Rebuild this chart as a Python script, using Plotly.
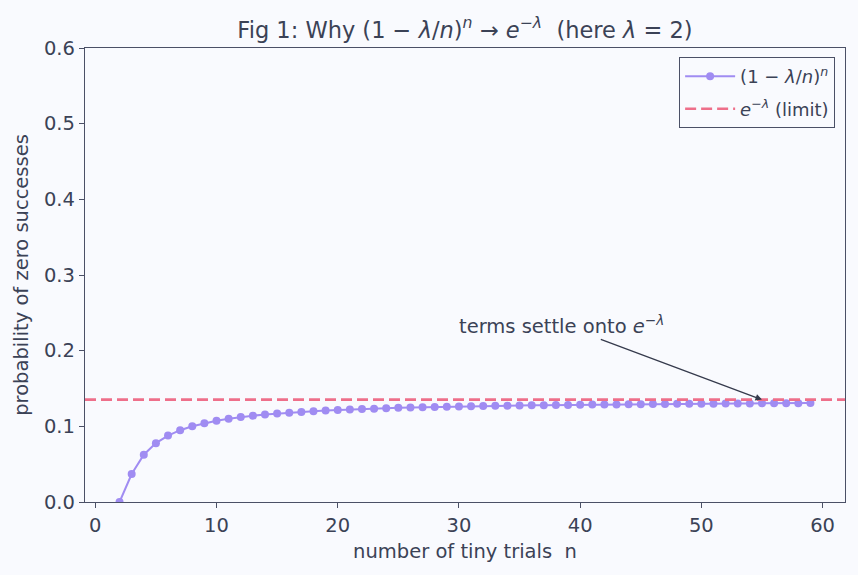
import plotly.graph_objects as go

n_values = list(range(2, 60))
prob_zero = [0.0, 0.0370, 0.0625, 0.0778, 0.0878, 0.0949, 0.1001, 0.1042, 0.1074, 0.1100,
             0.1122, 0.1140, 0.1156, 0.1169, 0.1181, 0.1191, 0.1200, 0.1208, 0.1216, 0.1223,
             0.1229, 0.1234, 0.1239, 0.1244, 0.1248, 0.1252, 0.1256, 0.1259, 0.1262, 0.1265,
             0.1268, 0.1271, 0.1273, 0.1275, 0.1278, 0.1280, 0.1282, 0.1283, 0.1285, 0.1287,
             0.1289, 0.1290, 0.1291, 0.1293, 0.1294, 0.1295, 0.1297, 0.1298, 0.1299, 0.1300,
             0.1301, 0.1302, 0.1303, 0.1304, 0.1305, 0.1306, 0.1306, 0.1307]
limit_value = 0.1353
x_range = [-0.85, 61.85]
y_ticks = [0.0, 0.1, 0.2, 0.3, 0.4, 0.5, 0.6]
x_ticks = [0, 10, 20, 30, 40, 50, 60]

TXT = "#3b4256"
AX = "#4b5066"
BG = "#f9fafe"
FONT = "DejaVu Sans"

fig = go.Figure()
fig.add_trace(go.Scatter(
    x=n_values, y=prob_zero, mode="lines+markers",
    line=dict(color="#a08cf2", width=2),
    marker=dict(color="#a08cf2", size=8),
    name="(1 − <i>λ</i>/<i>n</i>)<sup><i>n</i></sup>",
    legendgroup="a",
))
fig.add_trace(go.Scatter(
    x=x_range, y=[limit_value, limit_value], mode="lines",
    line=dict(color="#ee6f8a", width=2.6, dash="11px,5px"),
    name="<i>e</i><sup>−<i>λ</i></sup> (limit)",
    legendgroup="b",
))

fig.add_annotation(
    x=55, y=limit_value, xref="x", yref="y",
    ax=38.5, ay=0.234, axref="x", ayref="y",
    text="terms settle onto <i>e</i><sup>−<i>λ</i></sup>",
    showarrow=True, arrowhead=2, arrowsize=1, arrowwidth=1.3, arrowcolor="#353a4c",
    font=dict(family=FONT, size=19.5, color=TXT),
)

fig.update_layout(
    width=858, height=575,
    margin=dict(l=85, r=13, t=48, b=73),
    paper_bgcolor=BG, plot_bgcolor=BG,
    font=dict(family=FONT, size=18, color=TXT),
    title=dict(text="Fig 1: Why (1 − <i>λ</i>/<i>n</i>)<sup><i>n</i></sup> → <i>e</i><sup>−<i>λ</i></sup>\u00a0\u00a0(here <i>λ</i> = 2)",
               x=0.5, xref="paper", xanchor="center", y=0.948, yanchor="middle",
               font=dict(family=FONT, size=22.5, color=TXT)),
    showlegend=True,
    legend=dict(x=0.987, y=0.98, xanchor="right", yanchor="top",
                bgcolor=BG, bordercolor=AX, borderwidth=1,
                tracegroupgap=6, itemwidth=50,
                font=dict(family=FONT, size=18, color=TXT)),
)
fig.update_xaxes(range=x_range, tickvals=x_ticks, showgrid=False, zeroline=False,
                 showline=True, linecolor=AX, linewidth=1.3, mirror=True,
                 ticks="outside", ticklen=5, tickcolor=AX,
                 title=dict(text="number of tiny trials  n", standoff=8,
                            font=dict(family=FONT, size=19.5, color=TXT)),
                 tickfont=dict(family=FONT, size=19.5, color=TXT))
fig.update_yaxes(range=[0, 0.6], tickvals=y_ticks, tickformat=".1f", showgrid=False, zeroline=False,
                 showline=True, linecolor=AX, linewidth=1.3, mirror=True,
                 ticks="outside", ticklen=5, tickcolor=AX,
                 title=dict(text="probability of zero successes", standoff=10,
                            font=dict(family=FONT, size=19.5, color=TXT)),
                 tickfont=dict(family=FONT, size=19.5, color=TXT))

fig.write_html("out.html")
